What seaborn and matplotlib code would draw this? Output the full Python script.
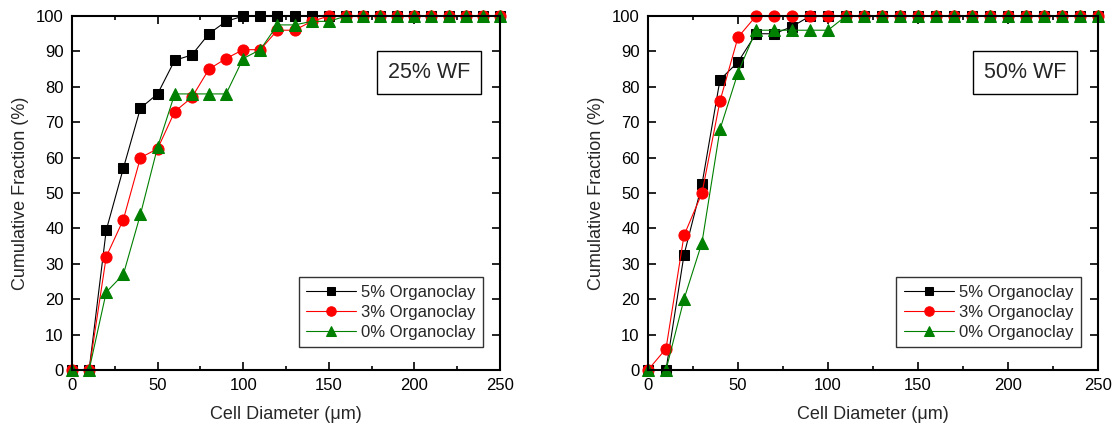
import matplotlib
matplotlib.use("Agg")
import matplotlib.pyplot as plt
from matplotlib.ticker import MultipleLocator
import seaborn as sns
import pandas as pd

diameter = list(range(0, 251, 10))

# 25% WF
wf25_5 = [0, 0, 39.5, 57, 74, 78, 87.5, 89, 95, 98.5, 100] + [100] * 15
wf25_3 = [0, 0, 32, 42.5, 60, 62.5, 73, 77, 85, 88, 90.5, 90.5, 96, 96, 98.5] + [100] * 11
wf25_0 = [0, 0, 22, 27, 44, 63, 78, 78, 78, 78, 88, 90.5, 97.5, 97.5, 98.5, 98.5] + [100] * 10

# 50% WF
wf50_5 = [0, 0, 32.5, 52.5, 82, 87, 95, 95, 97, 100] + [100] * 16
wf50_3 = [0, 6, 38, 50, 76, 94, 100] + [100] * 19
wf50_0 = [0, 0, 20, 36, 68, 84, 96, 96, 96, 96, 96] + [100] * 15

labels = ["5% Organoclay", "3% Organoclay", "0% Organoclay"]
colors = ["black", "red", "green"]
markers = ["s", "o", "^"]
sizes = [7.2, 8, 8.5]

sns.set_style("ticks")
plt.rcParams["font.family"] = ["Liberation Sans", "DejaVu Sans"]

fig = plt.figure(figsize=(11.18, 4.34), dpi=100)
ax1 = fig.add_axes([0.0644, 0.1475, 0.3828, 0.8155])
ax2 = fig.add_axes([0.5796, 0.1475, 0.4025, 0.8155])

panels = [(ax1, [wf25_5, wf25_3, wf25_0], "25% WF"),
          (ax2, [wf50_5, wf50_3, wf50_0], "50% WF")]

for ax, series, tag in panels:
    for vals, lab, c, m, s in zip(series, labels, colors, markers, sizes):
        df = pd.DataFrame({"d": diameter, "f": vals})
        sns.lineplot(data=df, x="d", y="f", ax=ax, color=c, marker=m,
                     markersize=s, markeredgecolor=c, linewidth=0.8,
                     label=lab, clip_on=False)
    ax.set_xlim(0, 250)
    ax.set_ylim(0, 100)
    ax.xaxis.set_major_locator(MultipleLocator(50))
    ax.xaxis.set_minor_locator(MultipleLocator(25))
    ax.yaxis.set_major_locator(MultipleLocator(10))
    ax.tick_params(which="both", direction="in", top=True, right=True,
                   labelsize=12, width=1.2, colors="black", pad=6)
    ax.tick_params(which="major", length=6)
    ax.tick_params(which="minor", length=3)
    for sp in ax.spines.values():
        sp.set_visible(True)
        sp.set_linewidth(1.5)
        sp.set_color("black")
    ax.set_xlabel("Cell Diameter (\u03bcm)", fontsize=13, labelpad=9)
    ax.set_ylabel("Cumulative Fraction (%)", fontsize=13, labelpad=5)
    ax.text(0.93, 0.84, tag, transform=ax.transAxes, fontsize=15.5,
            ha="right", va="center",
            bbox=dict(boxstyle="square,pad=0.5", fc="white", ec="black", lw=1))
    leg = ax.legend(loc="lower right", bbox_to_anchor=(0.98, 0.04),
                    fontsize=12, frameon=True, fancybox=False,
                    edgecolor="black", borderpad=0.45, labelspacing=0.3,
                    handlelength=3.0, handletextpad=0.3, markerscale=0.85)
    leg.get_frame().set_linewidth(1)

fig.savefig("out.png", dpi=100)
